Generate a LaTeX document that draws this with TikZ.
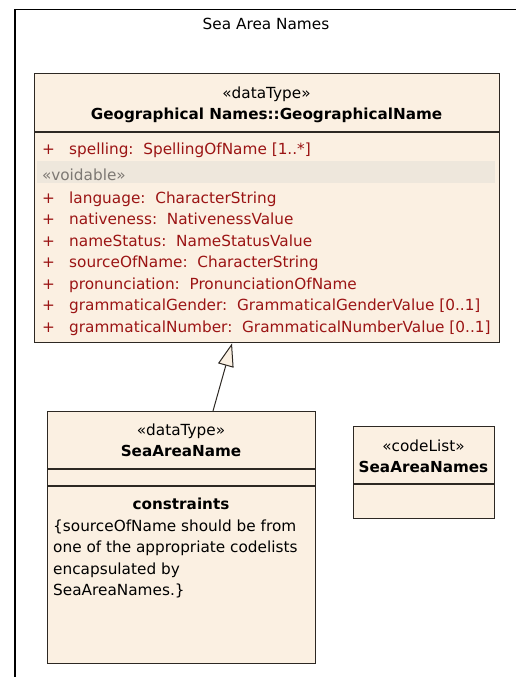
\documentclass[tikz,border=0pt]{standalone}
\usepackage{fontspec}
\setmainfont{DejaVu Sans}
\usetikzlibrary{arrows.meta,calc}
\definecolor{umlfill}{RGB}{251,240,226}
\definecolor{umlline}{RGB}{45,40,35}
\definecolor{attrred}{RGB}{155,20,20}
\definecolor{voidband}{RGB}{238,231,220}
\definecolor{voidgray}{RGB}{125,120,115}

\begin{document}
\begin{tikzpicture}[x=1pt,y=-1pt,
  classbox/.style={draw=umlline, line width=1.4pt, fill=umlfill, rectangle,
    inner sep=0pt, anchor=north west},
  sepline/.style={draw=umlline, line width=1.3pt},
  txt/.style={inner sep=0pt, font=\fontsize{15.3}{18}\selectfont},
  stereo/.style={txt, anchor=base},
  cname/.style={txt, anchor=base, font=\fontsize{15.2}{18}\bfseries},
  attr/.style={txt, anchor=base west, text=attrred},
  plus/.style={txt, anchor=base west, text=attrred},
  note/.style={txt, anchor=base west},
  gen/.style={draw=umlline, line width=1pt,
    -{Triangle[open, length=23pt, width=16pt, fill=umlfill]}}
]
\useasboundingbox (0,0) rectangle (516,677);

% package frame and its name
\draw[line width=1.5pt, black] (516,9.5) -| (15,677);
\node[txt, anchor=base] (pkg) at (266,30) {Sea Area Names};

% GeographicalName data type
\node[classbox, minimum width=465pt, minimum height=269pt] (geo) at (34,73) {};
\node[stereo] (geost) at (266.5,99) {«dataType»};
\node[cname] (geoname) at (266.5,119) {Geographical Names::GeographicalName};
\draw[sepline] ($(geo.north west)+(0,59)$) -- ($(geo.north east)+(0,59)$);

\node[plus] (p0) at (42,154) {+};
\node[attr] (a0) at (69,154) {spelling:\ \ SpellingOfName [1..*]};

\fill[voidband] (37,161) rectangle (495,183);
\node[txt, anchor=base west, text=voidgray] (void) at (42,180) {«voidable»};

\foreach \i/\t in {0/{language:\ \ CharacterString},
                   1/{nativeness:\ \ NativenessValue},
                   2/{nameStatus:\ \ NameStatusValue},
                   3/{sourceOfName:\ \ CharacterString},
                   4/{pronunciation:\ \ PronunciationOfName},
                   5/{grammaticalGender:\ \ GrammaticalGenderValue [0..1]},
                   6/{grammaticalNumber:\ \ GrammaticalNumberValue [0..1]}} {
  \node[plus] (vp\i) at (42,{203+21.5*\i}) {+};
  \node[attr] (va\i) at (69,{203+21.5*\i}) {\t};
}

% SeaAreaName data type
\node[classbox, minimum width=268pt, minimum height=252pt] (sea) at (47,411) {};
\node[stereo] (seast) at (181,435) {«dataType»};
\node[cname] (seaname) at (181,456) {SeaAreaName};
\draw[sepline] ($(sea.north west)+(0,58)$) -- ($(sea.north east)+(0,58)$);
\draw[sepline] ($(sea.north west)+(0,75)$) -- ($(sea.north east)+(0,75)$);
\node[cname] (cons) at (181,509) {constraints};
\node[note] (c1) at (53,531) {\{sourceOfName should be from};
\node[note] (c2) at (53,552.5) {one of the appropriate codelists};
\node[note] (c3) at (53,574) {encapsulated by};
\node[note] (c4) at (53,595.5) {SeaAreaNames.\}};

% SeaAreaNames code list
\node[classbox, minimum width=141pt, minimum height=92pt] (cl) at (353,426) {};
\node[stereo] (clst) at (423.5,451) {«codeList»};
\node[cname] (clname) at (423.5,472) {SeaAreaNames};
\draw[sepline] ($(cl.north west)+(0,58)$) -- ($(cl.north east)+(0,58)$);

% generalization SeaAreaName -> GeographicalName
\coordinate (genfrom) at ($(sea.north west)+(166,0)$);
\coordinate (gento) at ($(geo.south west)+(198,0)$);
\draw[gen] (genfrom) -- (gento);
\end{tikzpicture}
\end{document}
